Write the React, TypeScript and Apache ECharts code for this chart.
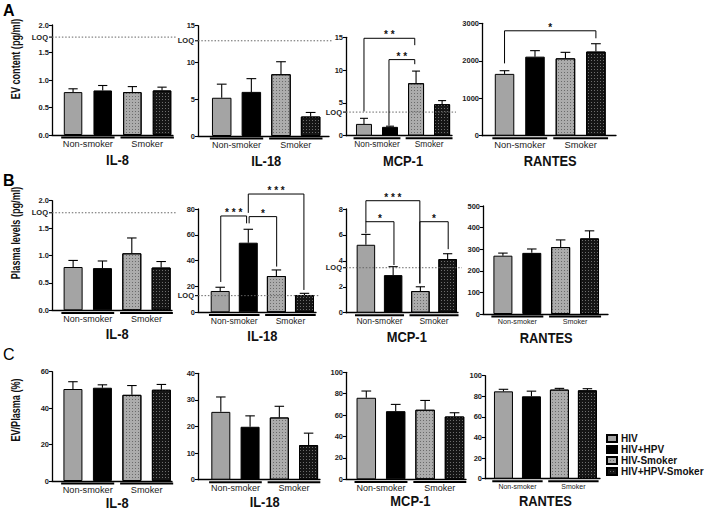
import React, { useEffect, useRef } from 'react';
import * as echarts from 'echarts';

// ---------- data ----------
const groupNames = ['HIV', 'HIV+HPV', 'HIV-Smoker', 'HIV+HPV-Smoker'];
const smokingGroups = ['Non-smoker', 'Smoker'];
const cytokineNames = ['IL-8', 'IL-18', 'MCP-1', 'RANTES'];
const panelLetters = ['A', 'B', 'C'];
const rowTitles = ['EV content (pg/ml)', 'Plasma levels (pg/ml)', 'EV/Plasma (%)'];

// A: cytokine content of extracellular vesicles (mean, SEM)
const evIL8 = [0.78, 0.81, 0.78, 0.81];
const evIL8Err = [0.06, 0.09, 0.1, 0.06];
const evIL18 = [5.2, 6.0, 8.4, 2.65];
const evIL18Err = [1.85, 1.8, 1.7, 0.55];
const evMCP1 = [1.8, 1.35, 8.0, 4.8];
const evMCP1Err = [0.85, 0.1, 1.85, 0.55];
const evRANTES = [1650, 2110, 2065, 2245];
const evRANTESErr = [85, 160, 160, 210];

// B: plasma levels
const plIL8 = [0.79, 0.77, 1.04, 0.78];
const plIL8Err = [0.12, 0.13, 0.28, 0.11];
const plIL18 = [16.5, 53.9, 28.1, 13.4];
const plIL18Err = [2.9, 10.4, 4.7, 1.3];
const plMCP1 = [5.24, 2.9, 1.67, 4.14];
const plMCP1Err = [0.8, 0.65, 0.33, 0.41];
const plRANTES = [270, 283, 310, 350];
const plRANTESErr = [12, 18, 33, 35];

// C: EV / plasma ratio (%)
const ratioIL8 = [50.5, 51.2, 47.3, 50.1];
const ratioIL8Err = [4, 1.6, 5.1, 2.9];
const ratioIL18 = [25.5, 19.9, 23.4, 13];
const ratioIL18Err = [5.6, 4.1, 4.2, 4.5];
const ratioMCP1 = [76.2, 63.7, 65, 58.7];
const ratioMCP1Err = [6.3, 6.3, 8.7, 3.5];
const ratioRANTES = [84.8, 80, 86.5, 85.8];
const ratioRANTESErr = [2, 5, 1.2, 1.6];

// limits of quantification per cytokine
const evLOQ = [1.78, 12.95, 3.6, null];
const plasmaLOQ = [1.78, 12.9, 3.47, null];

// y scales: [max, step, decimals]
const evScales = [[2, 0.5, 1], [15, 5, 0], [15, 5, 0], [3000, 1000, 0]];
const plasmaScales = [[2, 0.5, 1], [80, 20, 0], [8, 2, 0], [500, 100, 0]];
const ratioScales = [[60, 20, 0], [40, 10, 0], [100, 20, 0], [100, 20, 0]];

// significance brackets: [from bar, to bar, bracket level, left foot, right foot, stars]
const evMCP1Brackets = [[0, 1.95, 14.85, 3.7, 13.8, '* *'], [0.96, 1.95, 11.6, 1.55, 10.9, '* *']];
const evRANTESBrackets = [[0, 3, 2800, 1930, 2600, '*']];
const plIL18Brackets = [
  [0.02, 0.94, 74.6, 23.5, 68.9, '* * *'],
  [1.03, 2.01, 74.1, 68.9, 35.4, '*'],
  [1.0, 2.98, 91.6, 77, 17.3, '* * *'],
];
const plMCP1Brackets = [
  [0, 1.98, 8.64, 7.0, 2.26, '* * *'],
  [0, 1.03, 7.02, 6.12, 3.68, '*'],
  [1.98, 3.02, 7.02, 2.26, 4.9, '*'],
];

const panels = [
  { values: evIL8, errors: evIL8Err, scale: evScales[0], loq: evLOQ[0], brackets: [] },
  { values: evIL18, errors: evIL18Err, scale: evScales[1], loq: evLOQ[1], brackets: [] },
  { values: evMCP1, errors: evMCP1Err, scale: evScales[2], loq: evLOQ[2], brackets: evMCP1Brackets },
  { values: evRANTES, errors: evRANTESErr, scale: evScales[3], loq: evLOQ[3], brackets: evRANTESBrackets },
  { values: plIL8, errors: plIL8Err, scale: plasmaScales[0], loq: plasmaLOQ[0], brackets: [] },
  { values: plIL18, errors: plIL18Err, scale: plasmaScales[1], loq: plasmaLOQ[1], brackets: plIL18Brackets },
  { values: plMCP1, errors: plMCP1Err, scale: plasmaScales[2], loq: plasmaLOQ[2], brackets: plMCP1Brackets },
  { values: plRANTES, errors: plRANTESErr, scale: plasmaScales[3], loq: plasmaLOQ[3], brackets: [] },
  { values: ratioIL8, errors: ratioIL8Err, scale: ratioScales[0], loq: null, brackets: [] },
  { values: ratioIL18, errors: ratioIL18Err, scale: ratioScales[1], loq: null, brackets: [] },
  { values: ratioMCP1, errors: ratioMCP1Err, scale: ratioScales[2], loq: null, brackets: [] },
  { values: ratioRANTES, errors: ratioRANTESErr, scale: ratioScales[3], loq: null, brackets: [] },
];

// ---------- layout ----------
// plot box per panel: left x, axis-top y, zero-line y, axis end x, x range (bar slots), bar width, group-label font
const boxes = [
  [52, 25, 135, 173, -0.71, 3.37, 18.5, 9.2],
  [198, 25.7, 136, 329, -0.8, 3.62, 19.5, 9],
  [346, 37.3, 135.7, 452, -0.69, 3.38, 16, 8.4],
  [482, 23.3, 135.7, 616, -0.74, 3.66, 19.5, 9.4],
  [52, 200.7, 310.3, 172, -0.72, 3.37, 19, 9],
  [198, 209, 312.3, 316, -0.79, 3.41, 19, 8.6],
  [346, 209, 312.7, 458, -0.73, 3.38, 18.5, 8.5],
  [483, 206, 314, 608, -0.69, 3.64, 19, 7.2],
  [52, 371.7, 481, 172, -0.71, 3.36, 19, 9.2],
  [198, 373.3, 479.7, 320, -0.78, 3.39, 19, 9],
  [346, 372.3, 479.3, 466, -0.69, 3.39, 19.5, 9],
  [485, 375.7, 478.7, 600, -0.66, 3.45, 19, 7],
];
const titleOffsets = [25, 23.5, 21.5];
const letterTops = [2, 172, 346];
const rowNameCenters = [[15.5, 59], [15, 233], [15, 410]];

const FONT = 'Arial, "Liberation Sans", sans-serif';
const groupFills = ['#a4a4a4', '#000000', '#acacac', '#151515'];
const groupDots = [null, null, 'rgba(95,95,95,0.85)', 'rgba(125,125,125,0.85)'];

const txt = (x: number, y: number, text: string, font: string, align: string, vAlign: string, fill = '#111', scaleX = 1, rotation = 0) => ({
  type: 'text', x, y, scaleX, rotation, silent: true,
  style: { text, x: 0, y: 0, font, fill, textFill: fill, align, verticalAlign: vAlign, textAlign: align, textVerticalAlign: vAlign },
});
const seg = (x1: number, y1: number, x2: number, y2: number, lineWidth = 1, stroke = '#000', lineDash?: number[]) => ({
  type: 'line', silent: true, shape: { x1, y1, x2, y2 }, style: { stroke, lineWidth, lineDash, fill: null },
});

function annotations(p: any, box: number[], title: string, titleOffset: number) {
  const [, , , , xMin, xMax, barW, groupFont] = box;
  return (_params: any, api: any) => {
    const kids: any[] = [];
    const [xa, yZero] = api.coord([xMin, 0]);
    const [xb] = api.coord([xMax, 0]);
    // error bars (upper only)
    p.values.forEach((v: number, i: number) => {
      const a = api.coord([i, v]);
      const b = api.coord([i, v + p.errors[i]]);
      const cap = barW * 0.25;
      kids.push(seg(a[0], a[1], b[0], b[1], 1.1));
      kids.push(seg(b[0] - cap, b[1], b[0] + cap, b[1], 1.1));
    });
    // limit of quantification
    if (p.loq != null) {
      const y = api.coord([0, p.loq])[1];
      kids.push(seg(xa, y, xb + 4, y, 1, '#666', [1.5, 1.8]));
      kids.push(seg(xa - 3, y, xa, y, 1.1));
      kids.push(txt(xa - 4, y, 'LOQ', `bold 7.5px ${FONT}`, 'right', 'middle', '#222'));
    }
    // smoking-status group bars and labels
    smokingGroups.forEach((label, g) => {
      const l = api.coord([2 * g - 0.4, 0])[0];
      const r = api.coord([2 * g + 1.4, 0])[0];
      kids.push(seg(l, yZero + 2.6, r, yZero + 2.6, 2));
      kids.push(txt((l + r) / 2, yZero + 4, label, `${groupFont}px ${FONT}`, 'center', 'top', '#222'));
    });
    // significance brackets
    p.brackets.forEach((bk: any[]) => {
      const [i1, i2, level, footL, footR, stars] = bk;
      const p1 = api.coord([i1, footL]);
      const p2 = api.coord([i1, level]);
      const p3 = api.coord([i2, level]);
      const p4 = api.coord([i2, footR]);
      kids.push({ type: 'polyline', silent: true, shape: { points: [p1, p2, p3, p4] }, style: { stroke: '#000', lineWidth: 1, fill: null } });
      kids.push(txt((p2[0] + p3[0]) / 2, p2[1] + 1.5, stars, `bold 10px ${FONT}`, 'center', 'bottom', '#111'));
    });
    // panel title
    const c0 = api.coord([0, 0])[0];
    const c3 = api.coord([3, 0])[0];
    kids.push(txt((c0 + c3) / 2, yZero + titleOffset, title, `bold 15px ${FONT}`, 'center', 'middle', '#111', 0.86));
    return { type: 'group', children: kids };
  };
}

function buildOption() {
  const grid: any[] = [];
  const xAxis: any[] = [];
  const yAxis: any[] = [];
  const series: any[] = [];
  panels.forEach((p, i) => {
    const [left, top, zero, end, xMin, xMax, barW] = boxes[i];
    const [yMax, step, dec] = p.scale as number[];
    grid.push({ left, top, width: end - left, height: zero - top });
    xAxis.push({
      type: 'value', gridIndex: i, min: xMin, max: xMax,
      axisLine: { show: true, onZero: false, lineStyle: { color: '#000', width: 1.3 } },
      axisTick: { show: false }, axisLabel: { show: false }, splitLine: { show: false },
    });
    yAxis.push({
      type: 'value', gridIndex: i, min: 0, max: yMax, interval: step,
      axisLine: { show: true, onZero: false, lineStyle: { color: '#000', width: 1.3 } },
      axisTick: { show: true, length: 3, lineStyle: { color: '#000', width: 1.1 } },
      axisLabel: { fontSize: 7.5, fontWeight: 'bold', fontFamily: FONT, color: '#222', margin: 3, formatter: (v: number) => v.toFixed(dec) },
      splitLine: { show: false },
    });
    groupNames.forEach((name, g) => {
      const itemStyle: any = { color: groupFills[g], borderColor: '#000', borderWidth: 1 };
      if (groupDots[g]) {
        itemStyle.decal = { symbol: 'rect', symbolSize: 1, dashArrayX: [1, 1.5], dashArrayY: [1, 1.5], color: groupDots[g] };
      }
      series.push({
        type: 'bar', name, xAxisIndex: i, yAxisIndex: i, barWidth: barW, barGap: '-100%',
        data: [[g, p.values[g]]], itemStyle, silent: true,
      });
    });
    series.push({
      type: 'custom', xAxisIndex: i, yAxisIndex: i, clip: false, silent: true, z: 5,
      data: [[0, 0]], encode: { x: 0, y: 1 },
      renderItem: annotations(p, boxes[i], cytokineNames[i % 4], titleOffsets[Math.floor(i / 4)]),
    });
  });

  const graphic: any[] = [];
  panelLetters.forEach((letter, r) => {
    graphic.push({
      type: 'text', left: 3, top: letterTops[r], silent: true,
      style: { text: letter, font: `${r === 2 ? 'normal' : 'bold'} 16px ${FONT}`, fill: '#000', textFill: '#000' },
    });
    const [cx, cy] = rowNameCenters[r];
    graphic.push(txt(cx, cy, rowTitles[r], `bold 13px ${FONT}`, 'center', 'middle', '#111', 0.7, Math.PI / 2));
  });

  return {
    animation: false,
    backgroundColor: '#fff',
    grid, xAxis, yAxis, series, graphic,
    legend: {
      data: groupNames, orient: 'vertical', left: 606, top: 433, padding: 0,
      icon: 'rect', itemWidth: 10, itemHeight: 7, itemGap: 0, selectedMode: false,
      textStyle: { fontSize: 10, fontWeight: 'bold', fontFamily: FONT, color: '#111', lineHeight: 11, padding: [0, 0, 0, -1] },
    },
  };
}

export default function App() {
  const ref = useRef<HTMLDivElement>(null);
  useEffect(() => {
    const chart = echarts.init(ref.current!, null, { renderer: 'svg' });
    chart.setOption(buildOption() as any);
    return () => chart.dispose();
  }, []);
  return <div ref={ref} style={{ position: 'fixed', left: 0, top: 0, width: 708, height: 511, background: '#fff' }} />;
}
